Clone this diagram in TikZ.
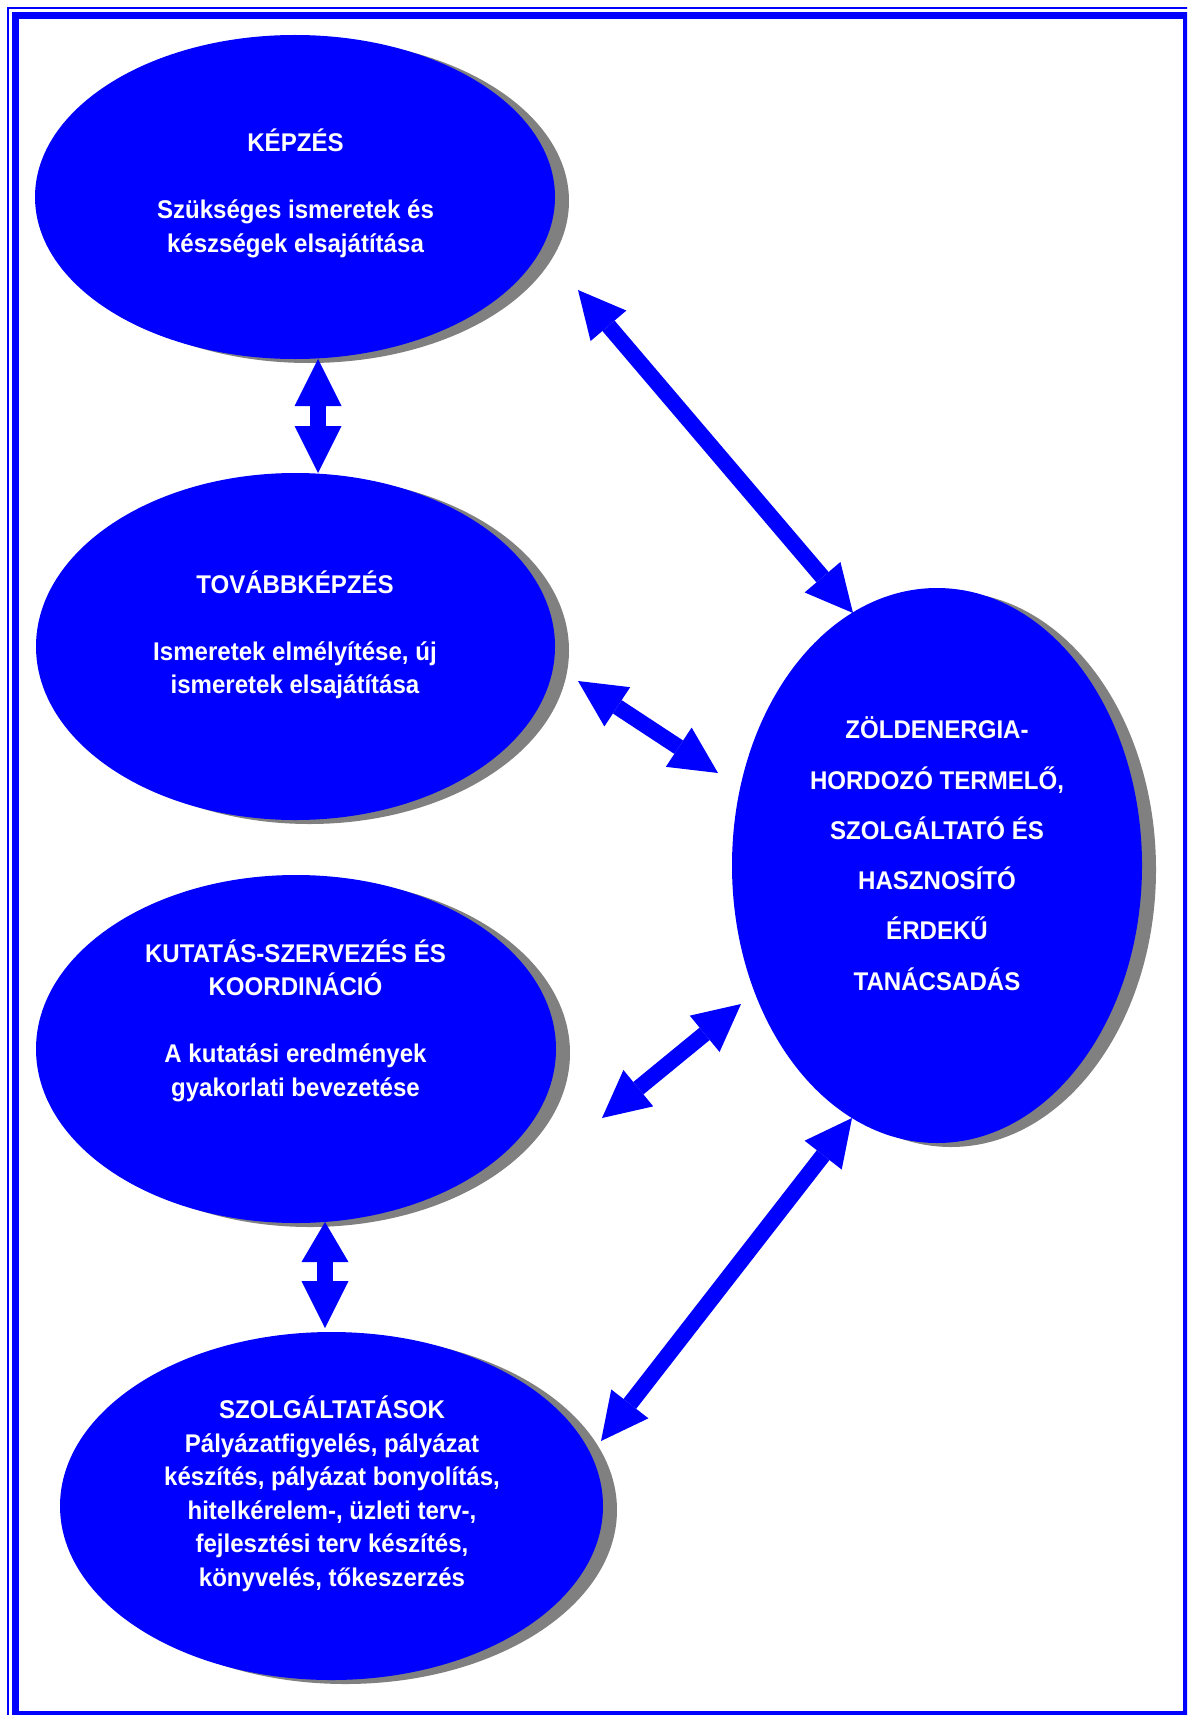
\documentclass[tikz,border=0pt]{standalone}
\usepackage{fontspec}
\setmainfont{Liberation Sans}[FakeStretch=0.94]
\usetikzlibrary{arrows.meta,shapes.geometric,shadows,calc}
\definecolor{pureblue}{RGB}{0,0,255}
\definecolor{shadowgray}{RGB}{128,128,128}
\newcommand\txtlines[1]{\begin{tabular}[t]{@{}c@{}}#1\end{tabular}}
\tikzset{
  bubble/.style={ellipse, fill=pureblue, draw=none, inner sep=0pt, outer sep=0pt,
    drop shadow={shadow xshift=14pt, shadow yshift=-4pt, fill=shadowgray, opacity=1}},
  label/.style={anchor=base, inner sep=0pt, text=white,
    font=\fontsize{25.6}{33.5}\selectfont\bfseries},
  biglabel/.style={anchor=base, inner sep=0pt, text=white,
    font=\fontsize{25.6}{50.3}\selectfont\bfseries},
  dblarrow/.style={draw=pureblue, line width=16pt,
    {Triangle[length=47pt,width=47pt,line width=0pt]}-{Triangle[length=47pt,width=47pt,line width=0pt]}},
  frameline/.style={draw=pureblue}
}
\begin{document}
\begin{tikzpicture}[x=1pt,y=-1pt]
\useasboundingbox (0,0) rectangle (1187,1715);
\clip (0,0) rectangle (1187,1715);
% frame
\draw[frameline, line width=2pt] (8,8) rectangle (1194,1722);
\draw[frameline, line width=7pt] (15.5,15.5) rectangle (1186.5,1714.5);
% ellipses
\node[bubble, minimum width=520pt, minimum height=324pt] (e1) at (295,197) {};
\node[bubble, minimum width=519pt, minimum height=347pt] (e2) at (295.5,646.5) {};
\node[bubble, minimum width=520pt, minimum height=348pt] (e3) at (296,1049) {};
\node[bubble, minimum width=543pt, minimum height=348pt] (e4) at (331.5,1506) {};
\node[bubble, minimum width=410pt, minimum height=555pt] (big) at (937,865.5) {};
% texts
\node[label] (t1) at (295.5,152) {\txtlines{KÉPZÉS\\ \\ Szükséges ismeretek és\\ készségek elsajátítása}};
\node[label] (t2) at (295,593) {\txtlines{TOVÁBBKÉPZÉS\\ \\ Ismeretek elmélyítése, új\\ ismeretek elsajátítása}};
\node[label] (t3) at (295.5,962) {\txtlines{KUTATÁS-SZERVEZÉS ÉS\\ KOORDINÁCIÓ\\ \\ A kutatási eredmények\\ gyakorlati bevezetése}};
\node[label] (t4) at (332,1418.7) {\txtlines{SZOLGÁLTATÁSOK\\ Pályázatfigyelés, pályázat\\ készítés, pályázat bonyolítás,\\ hitelkérelem-, üzleti terv-,\\ fejlesztési terv készítés,\\ könyvelés, tőkeszerzés}};
\node[biglabel] (t5) at (937,738.7) {\txtlines{ZÖLDENERGIA-\\ HORDOZÓ TERMELŐ,\\ SZOLGÁLTATÓ ÉS\\ HASZNOSÍTÓ\\ ÉRDEKŰ\\ TANÁCSADÁS}};
% arrow end points
\coordinate (a1s) at ($(e1.center)+(23,162)$);
\coordinate (a1e) at ($(e2.center)+(22.5,-173.5)$);
\coordinate (a2s) at ($(e3.center)+(29,173)$);
\coordinate (a2e) at ($(e4.center)+(-6.5,-178)$);
\coordinate (a3s) at ($(e1.center)+(283,93)$);
\coordinate (a3e) at ($(big.center)+(-84,-252.5)$);
\coordinate (a4s) at ($(e2.center)+(282.5,34.5)$);
\coordinate (a4e) at ($(big.center)+(-219,-92.5)$);
\coordinate (a5s) at ($(e3.center)+(306,69)$);
\coordinate (a5e) at ($(big.center)+(-196,138.5)$);
\coordinate (a6s) at ($(e4.center)+(269.5,-65)$);
\coordinate (a6e) at ($(big.center)+(-85,252.5)$);
% arrows
\draw[dblarrow] (a1s) -- (a1e);
\draw[draw=pureblue, line width=16pt,
  {Triangle[length=40pt,width=47pt,line width=0pt]}-{Triangle[length=47pt,width=47pt,line width=0pt]}] (a2s) -- (a2e);
\draw[dblarrow] (a3s) -- (a3e);
\draw[dblarrow] (a4s) -- (a4e);
\draw[dblarrow] (a5s) -- (a5e);
\draw[dblarrow] (a6s) -- (a6e);
\end{tikzpicture}
\end{document}
